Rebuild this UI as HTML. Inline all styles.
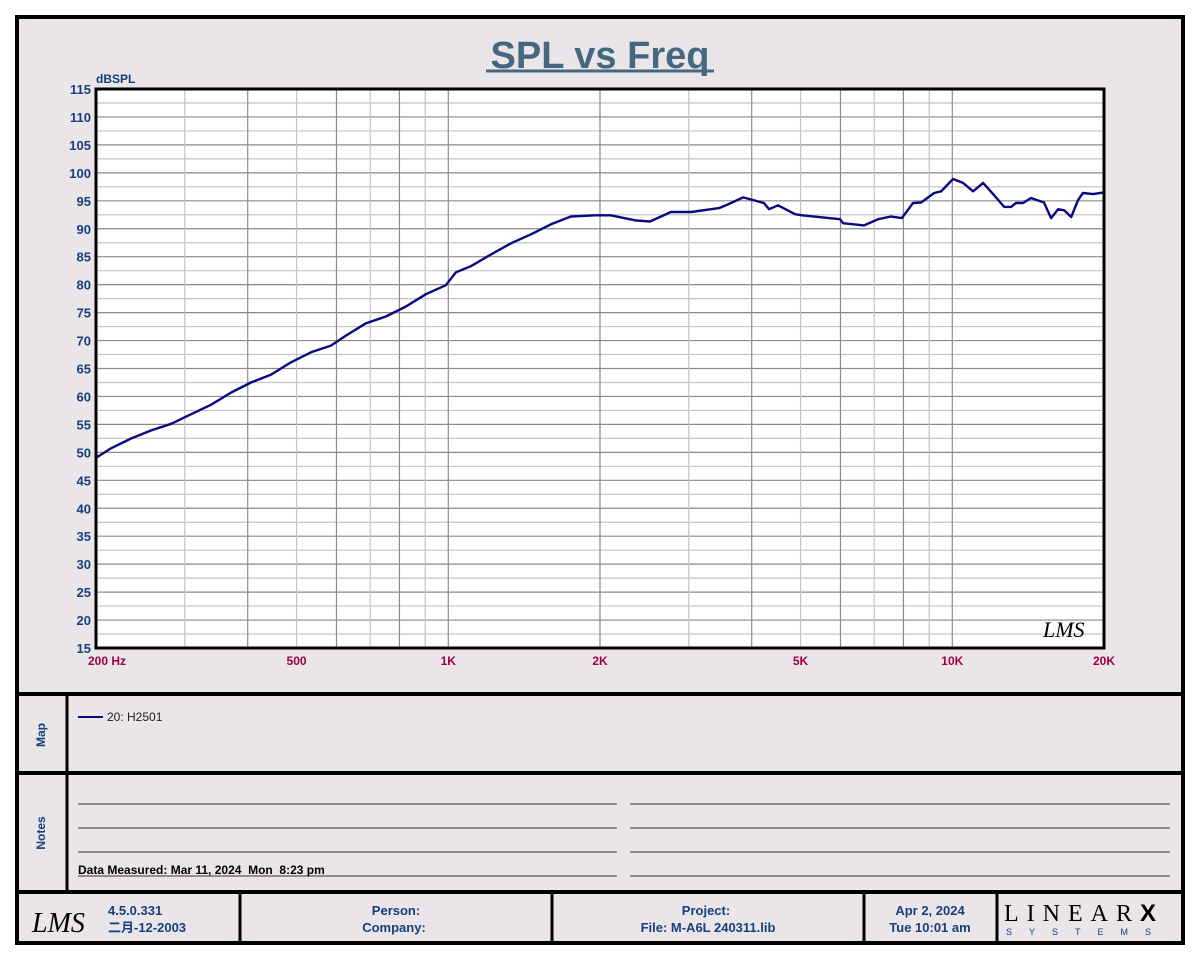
<!DOCTYPE html>
<html><head><meta charset="utf-8"><style>
html,body{margin:0;padding:0;background:#fff;}
svg{display:block;font-family:"Liberation Sans","Noto Sans CJK SC",sans-serif;}
</style></head><body>
<svg id="page" width="1200" height="960" viewBox="0 0 1200 960">
<rect x="17" y="17" width="1166" height="926" fill="#e9e5e9" stroke="#000" stroke-width="4"/>
<text x="600" y="68" text-anchor="middle" font-size="38" font-weight="bold" fill="#46687f">SPL vs Freq</text>
<line x1="486" y1="71" x2="714" y2="71" stroke="#46687f" stroke-width="3"/>
<text x="96" y="83" font-size="12" font-weight="bold" fill="#173f7a">dBSPL</text>
<rect x="96" y="89" width="1008" height="559" fill="#fff"/>
<g id="grid"></g>
<g id="yticks"></g>
<g id="xticks"></g>
<path id="curve" fill="none" stroke="#0a0a80" stroke-width="2.4" stroke-linejoin="round"/>
<rect x="96" y="89" width="1008" height="559" fill="none" stroke="#000" stroke-width="3"/>
<text x="1043" y="637" font-size="22" font-style="italic" font-family="Liberation Serif,serif" fill="#000">LMS</text>

<line x1="17" y1="694" x2="1183" y2="694" stroke="#000" stroke-width="4"/>
<line x1="17" y1="773" x2="1183" y2="773" stroke="#000" stroke-width="4"/>
<line x1="17" y1="892" x2="1183" y2="892" stroke="#000" stroke-width="4"/>
<line x1="67" y1="694" x2="67" y2="892" stroke="#000" stroke-width="3"/>
<text transform="translate(45,735) rotate(-90)" text-anchor="middle" font-size="12" font-weight="bold" fill="#173f7a">Map</text>
<text transform="translate(45,833) rotate(-90)" text-anchor="middle" font-size="12" font-weight="bold" fill="#173f7a">Notes</text>
<line x1="78" y1="717" x2="103" y2="717" stroke="#0a0a80" stroke-width="2"/>
<text x="107" y="721" font-size="12" fill="#222">20: H2501</text>
<g stroke="#333" stroke-width="1">
<line x1="78" y1="804" x2="617" y2="804"/><line x1="630" y1="804" x2="1170" y2="804"/>
<line x1="78" y1="828" x2="617" y2="828"/><line x1="630" y1="828" x2="1170" y2="828"/>
<line x1="78" y1="852" x2="617" y2="852"/><line x1="630" y1="852" x2="1170" y2="852"/>
<line x1="78" y1="876" x2="617" y2="876"/><line x1="630" y1="876" x2="1170" y2="876"/>
</g>
<text x="78" y="874" font-size="12" font-weight="bold" fill="#000" xml:space="preserve">Data Measured: Mar 11, 2024  Mon  8:23 pm</text>

<g stroke="#000" stroke-width="3">
<line x1="240" y1="892" x2="240" y2="943"/><line x1="552" y1="892" x2="552" y2="943"/>
<line x1="864" y1="892" x2="864" y2="943"/><line x1="997" y1="892" x2="997" y2="943"/>
</g>
<text x="32" y="932" font-size="28" font-style="italic" font-family="Liberation Serif,serif" fill="#000">LMS</text>
<g font-size="13" font-weight="bold" fill="#173f7a" xml:space="preserve">
<text x="108" y="915">4.5.0.331</text>
<text x="108" y="932">二月-12-2003</text>
<text x="396" y="915" text-anchor="middle">Person:</text>
<text x="394" y="932" text-anchor="middle">Company:</text>
<text x="706" y="915" text-anchor="middle">Project:</text>
<text x="708" y="932" text-anchor="middle">File: M-A6L   240311.lib</text>
<text x="930" y="915" text-anchor="middle">Apr  2, 2024</text>
<text x="930" y="932" text-anchor="middle">Tue 10:01 am</text>
</g>
<text x="1004" y="921" font-size="24" font-family="Liberation Serif,serif" letter-spacing="8" fill="#000">LINEAR<tspan font-family="Liberation Sans,sans-serif" font-weight="bold" letter-spacing="0">X</tspan></text>
<text x="1006" y="935" font-size="9" letter-spacing="17" fill="#173f7a">SYSTEMS</text>
</svg>
<script>
const freqs=[200,214,235,257,282,302,338,371,406,445,487,534,585,627,687,752,824,903,989,1035,1109,1215,1332,1459,1599,1751,1954,2100,2356,2512,2766,3032,3444,3556,3846,4230,4330,4510,4876,5036,5986,6070,6684,7128,7554,7944,8356,8672,9206,9506,10032,10502,10998,11514,12106,12678,13078,13380,13818,14328,15206,15704,16220,16674,17220,17760,18162,19020,20000];
const spl=[49.0,50.7,52.5,53.9,55.1,56.4,58.5,60.7,62.5,63.9,66.1,67.9,69.1,70.9,73.1,74.3,76.1,78.3,79.9,82.2,83.3,85.4,87.4,89.0,90.8,92.2,92.4,92.4,91.5,91.3,93.0,93.0,93.7,94.2,95.6,94.6,93.5,94.2,92.6,92.4,91.7,91.0,90.6,91.7,92.2,91.9,94.6,94.7,96.4,96.7,98.9,98.2,96.7,98.2,96.0,93.9,93.9,94.6,94.6,95.5,94.7,91.9,93.5,93.3,92.1,95.1,96.4,96.2,96.5];
const yTicks=[115,110,105,100,95,90,85,80,75,70,65,60,55,50,45,40,35,30,25,20,15];
const xTickVals=[200,500,1000,2000,5000,10000,20000];
const xTickLabels=["200  Hz","500","1K","2K","5K","10K","20K"];
const X0=96,X1=1104,Y0=89,Y1=648,FMIN=200,FMAX=20000,DMIN=15,DMAX=115;
const NS="http://www.w3.org/2000/svg";
function xs(f){return X0+(X1-X0)*Math.log10(f/FMIN)/Math.log10(FMAX/FMIN);}
function ys(d){return Y1-(Y1-Y0)*(d-DMIN)/(DMAX-DMIN);}
function mk(tag,attrs,parent){const e=document.createElementNS(NS,tag);for(const k in attrs)e.setAttribute(k,attrs[k]);parent.appendChild(e);return e;}
const grid=document.getElementById('grid');
for(let d=DMIN+2.5;d<DMAX;d+=2.5){
  const dark=(d%5===0);
  const l=mk('line',{x1:X0,x2:X1,y1:ys(d),y2:ys(d),stroke:dark?'#8a8a8a':'#c4c4c4','stroke-width':1.2},grid);
  
  
}
[300,400,500,600,700,800,900,1000,2000,3000,4000,5000,6000,7000,8000,9000,10000].forEach(f=>{
  const m=f>=1000?f/1000:f/100;
  const dark=(f===1000||f===10000||m%2===0);
  const l=mk('line',{x1:xs(f),x2:xs(f),y1:Y0,y2:Y1,stroke:dark?'#8a8a8a':'#c4c4c4','stroke-width':1.2},grid);
  
  
});
const yt=document.getElementById('yticks');
yTicks.forEach(v=>{
  const t=mk('text',{x:91,y:ys(v)+5,'text-anchor':'end','font-size':13,'font-weight':'bold',fill:'#173f7a'},yt);
  t.textContent=v;
  
  
});
const xt=document.getElementById('xticks');
xTickVals.forEach((f,i)=>{
  const first=i===0;
  const t=mk('text',{x:first?xs(f)-8:xs(f),y:665,'text-anchor':first?'start':'middle','font-size':12,'font-weight':'bold',fill:'#a0003c','xml:space':'preserve'},xt);
  t.textContent=xTickLabels[i];
  
  
});
document.getElementById('curve').setAttribute('d',freqs.map((f,i)=>(i?'L':'M')+xs(f).toFixed(1)+','+ys(spl[i]).toFixed(1)).join(' '));
</script>
</body></html>
